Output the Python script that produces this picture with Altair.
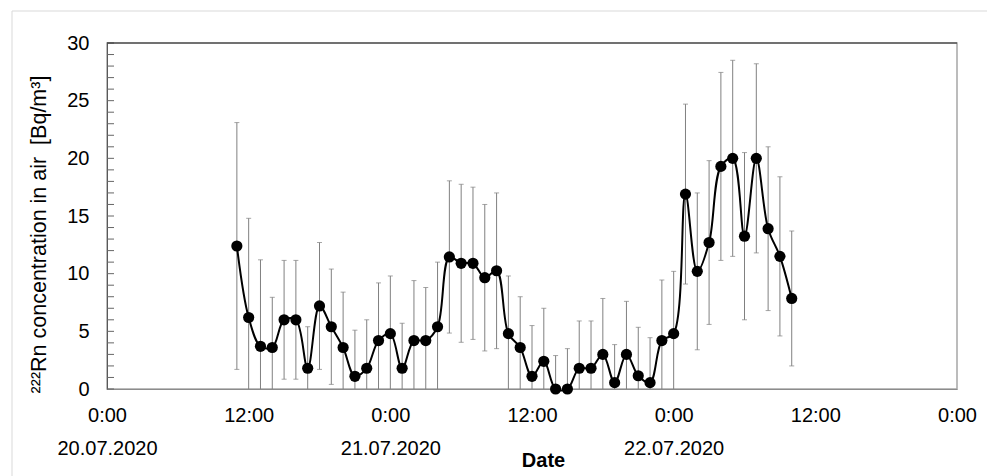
import altair as alt
import pandas as pd

# hourly measurements, hours counted from 20.07.2020 0:00
hours_from_start = list(range(11, 59))
rn_values = [12.4, 6.2, 3.7, 3.6, 6.0, 6.0, 1.8, 7.2, 5.4,
             3.6, 1.1, 1.8, 4.2, 4.8, 1.8, 4.2, 4.2, 5.4,
             11.45, 10.9, 10.9, 9.65, 10.25,
             4.8, 3.6, 1.1, 2.4, 0.0, 0.0, 1.8, 1.8, 3.0, 0.55, 3.0, 1.15, 0.55,
             4.2, 4.8,
             16.9, 10.2, 12.7, 19.3, 20.0, 13.25, 20.0, 13.9, 11.5, 7.85]
rn_errors = [10.7, 8.6, 7.5, 4.35, 5.15, 5.15, 3.6, 5.5, 5.0,
             4.8, 4.0, 4.2, 5.0, 5.0, 3.9, 5.2, 4.6, 5.6,
             6.6, 6.85, 6.6, 6.35, 6.75,
             5.0, 4.4, 4.4, 4.6, 2.9, 3.5, 4.1, 4.1, 4.85, 3.3, 4.6, 4.2, 3.9,
             5.25, 5.4,
             7.8, 6.8, 7.1, 8.15, 8.5, 7.25, 8.2, 7.1, 6.9, 5.85]
y_label_values = [0, 5, 10, 15, 20, 25, 30]
y_minor_ticks = list(range(0, 31))
x_tick_hours = [0, 12, 24, 36, 48, 60, 72]

start = pd.Timestamp("2020-07-20 00:00")
times = [start + pd.Timedelta(hours=h) for h in hours_from_start]
df = pd.DataFrame({"time": times, "rn": rn_values, "err": rn_errors})
tick_df = pd.DataFrame({"v": y_minor_ticks})
one = pd.DataFrame({"a": [0]})

x_values = [alt.DateTime(year=2020, month=7, date=20 + h // 24, hours=h % 24) for h in x_tick_hours]

FONT = "Liberation Sans"
W, H = 850, 346

x_axis = alt.Axis(
    values=x_values,
    labelExpr="hours(datum.value) == 12 ? '12:00' : (date(datum.value) == 23 ? '0:00' : ['0:00', timeFormat(datum.value, '%d.%m.%Y')])",
    labelFontSize=20, labelFont=FONT, labelColor="black", labelLineHeight=33,
    labelPadding=16, ticks=False, tickSize=0, grid=False, domainColor="#8c8c8c",
    labelFlush=False, labelOverlap=False, labelAngle=0,
    title="Date", titleFont=FONT, titleFontSize=20, titleFontWeight="bold", titleColor="black",
    titleX=436, titleY=71, titleBaseline="middle", titleAlign="center",
)
y_title = "²²²Rn concentration in air\u00a0 [Bq/m³]"
y_axis = alt.Axis(
    values=y_label_values, labelFontSize=20, labelFont=FONT, labelColor="black",
    labelPadding=18, ticks=False, tickSize=0, grid=False, domainColor="#595959",
    title=y_title, titleFont=FONT, titleFontSize=21.5, titleFontWeight="normal", titleColor="black",
    titleX=-68, titleY=191, titleAngle=270, titleBaseline="middle", titleAlign="center",
)
y_scale = alt.Scale(domain=[0, 30], zero=True, nice=False)
x_scale = alt.Scale(domain=[alt.DateTime(year=2020, month=7, date=20), alt.DateTime(year=2020, month=7, date=23)])

base = alt.Chart(df).transform_calculate(
    lo="datum.rn - datum.err", hi="datum.rn + datum.err"
).encode(x=alt.X("time:T", scale=x_scale, axis=x_axis))

border = alt.Chart(one).mark_rect(filled=False, stroke="#d9d9d9", strokeWidth=1).encode(
    x=alt.value(-95), x2=alt.value(1100), y=alt.value(-32), y2=alt.value(700)
)
bars = base.mark_rule(color="#808080", strokeWidth=1, clip=True).encode(
    y=alt.Y("lo:Q", scale=y_scale, axis=y_axis), y2="hi:Q"
)
cap_lo = base.mark_tick(orient="horizontal", size=5, thickness=1, color="#808080", clip=True).encode(
    y=alt.Y("lo:Q", scale=y_scale, axis=y_axis)
)
cap_hi = base.mark_tick(orient="horizontal", size=5, thickness=1, color="#808080", clip=True).encode(
    y=alt.Y("hi:Q", scale=y_scale, axis=y_axis)
)
line = base.mark_line(interpolate="catmull-rom", color="black", strokeWidth=2).encode(
    y=alt.Y("rn:Q", scale=y_scale, axis=y_axis)
)
points = base.mark_circle(size=125, color="black", opacity=1).encode(
    y=alt.Y("rn:Q", scale=y_scale, axis=y_axis)
)
minor = alt.Chart(tick_df).mark_rule(color="#666666", strokeWidth=1).encode(
    y=alt.Y("v:Q", scale=y_scale, axis=y_axis), x=alt.value(0), x2=alt.value(7)
)
top_line = alt.Chart(one).mark_rule(color="#262626", strokeWidth=1.2).encode(
    x=alt.value(0), x2=alt.value(W), y=alt.value(0)
)

chart = alt.layer(border, bars, cap_lo, cap_hi, line, points, minor, top_line).properties(
    width=W, height=H,
    autosize=alt.AutoSizeParams(type="none"),
    padding={"left": 99, "top": 35, "right": 30, "bottom": 100},
    background="white",
).configure_view(stroke="#a6a6a6", strokeWidth=1.5)

chart.save("out.html", embed_options={"renderer": "svg", "actions": False})
